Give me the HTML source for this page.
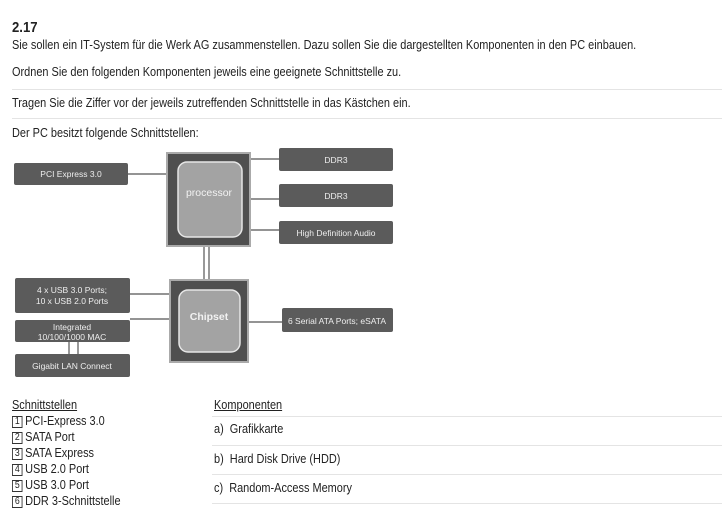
<!DOCTYPE html>
<html><head><meta charset="utf-8"><style>
body{margin:0;width:722px;height:519px;background:#fff;overflow:hidden;position:relative;font-family:"Liberation Sans",sans-serif;color:#222}
.t{position:absolute;white-space:nowrap;font-size:12.5px;line-height:14px;transform:scaleX(0.875);transform-origin:left center}
.r{position:absolute;height:1px;background:#e4e4e4}
.b{display:inline-block;width:10px;height:10px;border:1px solid #333;font-size:10px;line-height:10px;text-align:center;margin-right:3px;vertical-align:1px}
</style></head><body>
<div class="t" style="left:12px;top:20px;font-weight:bold;font-size:15px;line-height:16px">2.17</div>
<div class="t" style="left:12px;top:38px">Sie sollen ein IT-System für die Werk AG zusammenstellen. Dazu sollen Sie die dargestellten Komponenten in den PC einbauen.</div>
<div class="t" style="left:12px;top:65px">Ordnen Sie den folgenden Komponenten jeweils eine geeignete Schnittstelle zu.</div>
<div class="r" style="left:12px;top:89px;width:710px"></div>
<div class="t" style="left:12px;top:96px">Tragen Sie die Ziffer vor der jeweils zutreffenden Schnittstelle in das Kästchen ein.</div>
<div class="r" style="left:12px;top:118px;width:710px"></div>
<div class="t" style="left:12px;top:126px">Der PC besitzt folgende Schnittstellen:</div>

<svg style="position:absolute;left:0;top:0" width="722" height="519" font-family="Liberation Sans,sans-serif" font-size="8.5" fill="#eee">
<g stroke="#555" stroke-width="1.2">
<line x1="128" y1="174" x2="167" y2="174"/>
<line x1="250" y1="159" x2="279" y2="159"/>
<line x1="250" y1="199" x2="279" y2="199"/>
<line x1="250" y1="230" x2="279" y2="230"/>
<line x1="204" y1="246" x2="204" y2="280"/>
<line x1="209" y1="246" x2="209" y2="280"/>
<line x1="130" y1="294" x2="170" y2="294"/>
<line x1="130" y1="319" x2="170" y2="319"/>
<line x1="248" y1="322" x2="282" y2="322"/>
<line x1="69" y1="342" x2="69" y2="354"/>
<line x1="78" y1="342" x2="78" y2="354"/>
</g>
<g fill="#5b5b5b">
<rect x="14" y="163" width="114" height="22" rx="2"/>
<rect x="279" y="148" width="114" height="23" rx="2"/>
<rect x="279" y="184" width="114" height="23" rx="2"/>
<rect x="279" y="221" width="114" height="23" rx="2"/>
<rect x="15" y="278" width="115" height="35" rx="2"/>
<rect x="15" y="320" width="115" height="22" rx="2"/>
<rect x="15" y="354" width="115" height="23" rx="2"/>
<rect x="282" y="308" width="111" height="24" rx="2"/>
</g>
<rect x="167" y="153" width="83" height="93" fill="#4f4f4f" stroke="#aaa" stroke-width="2"/>
<rect x="178" y="162" width="64" height="75" rx="9" fill="#a3a3a3" stroke="#e6e6e6" stroke-width="1.5"/>
<rect x="170" y="280" width="78" height="82" fill="#4f4f4f" stroke="#aaa" stroke-width="2"/>
<rect x="179" y="290" width="61" height="62" rx="9" fill="#a3a3a3" stroke="#e6e6e6" stroke-width="1.5"/>
<g text-anchor="middle">
<text x="71" y="177">PCI Express   3.0</text>
<text x="336" y="163">DDR3</text>
<text x="336" y="199">DDR3</text>
<text x="336" y="236">High Definition Audio</text>
<text x="72" y="293">4 x USB 3.0 Ports;</text>
<text x="72" y="304">10 x USB 2.0 Ports</text>
<text x="72" y="330">Integrated</text>
<text x="72" y="340">10/100/1000 MAC</text>
<text x="72" y="369">Gigabit LAN Connect</text>
<text x="337" y="324">6 Serial ATA Ports; eSATA</text>
<text x="209" y="196" font-size="10.5" fill="#f2f2f2">processor</text>
<text x="209" y="320" font-size="10.5" font-weight="bold" fill="#f2f2f2">Chipset</text>
</g>
</svg>

<div class="t" style="left:12px;top:398px;text-decoration:underline">Schnittstellen</div>
<div class="t" style="left:12px;top:414px"><span class="b">1</span>PCI-Express 3.0</div>
<div class="t" style="left:12px;top:430px"><span class="b">2</span>SATA Port</div>
<div class="t" style="left:12px;top:446px"><span class="b">3</span>SATA Express</div>
<div class="t" style="left:12px;top:462px"><span class="b">4</span>USB 2.0 Port</div>
<div class="t" style="left:12px;top:478px"><span class="b">5</span>USB 3.0 Port</div>
<div class="t" style="left:12px;top:494px"><span class="b">6</span>DDR 3-Schnittstelle</div>
<div class="t" style="left:214px;top:398px;text-decoration:underline">Komponenten</div>
<div class="r" style="left:212px;top:416px;width:510px"></div>
<div class="t" style="left:214px;top:422px">a)&nbsp; Grafikkarte</div>
<div class="r" style="left:212px;top:445px;width:510px"></div>
<div class="t" style="left:214px;top:452px">b)&nbsp; Hard Disk Drive (HDD)</div>
<div class="r" style="left:212px;top:474px;width:510px"></div>
<div class="t" style="left:214px;top:481px">c)&nbsp; Random-Access Memory</div>
<div class="r" style="left:212px;top:503px;width:510px"></div>
</body></html>
